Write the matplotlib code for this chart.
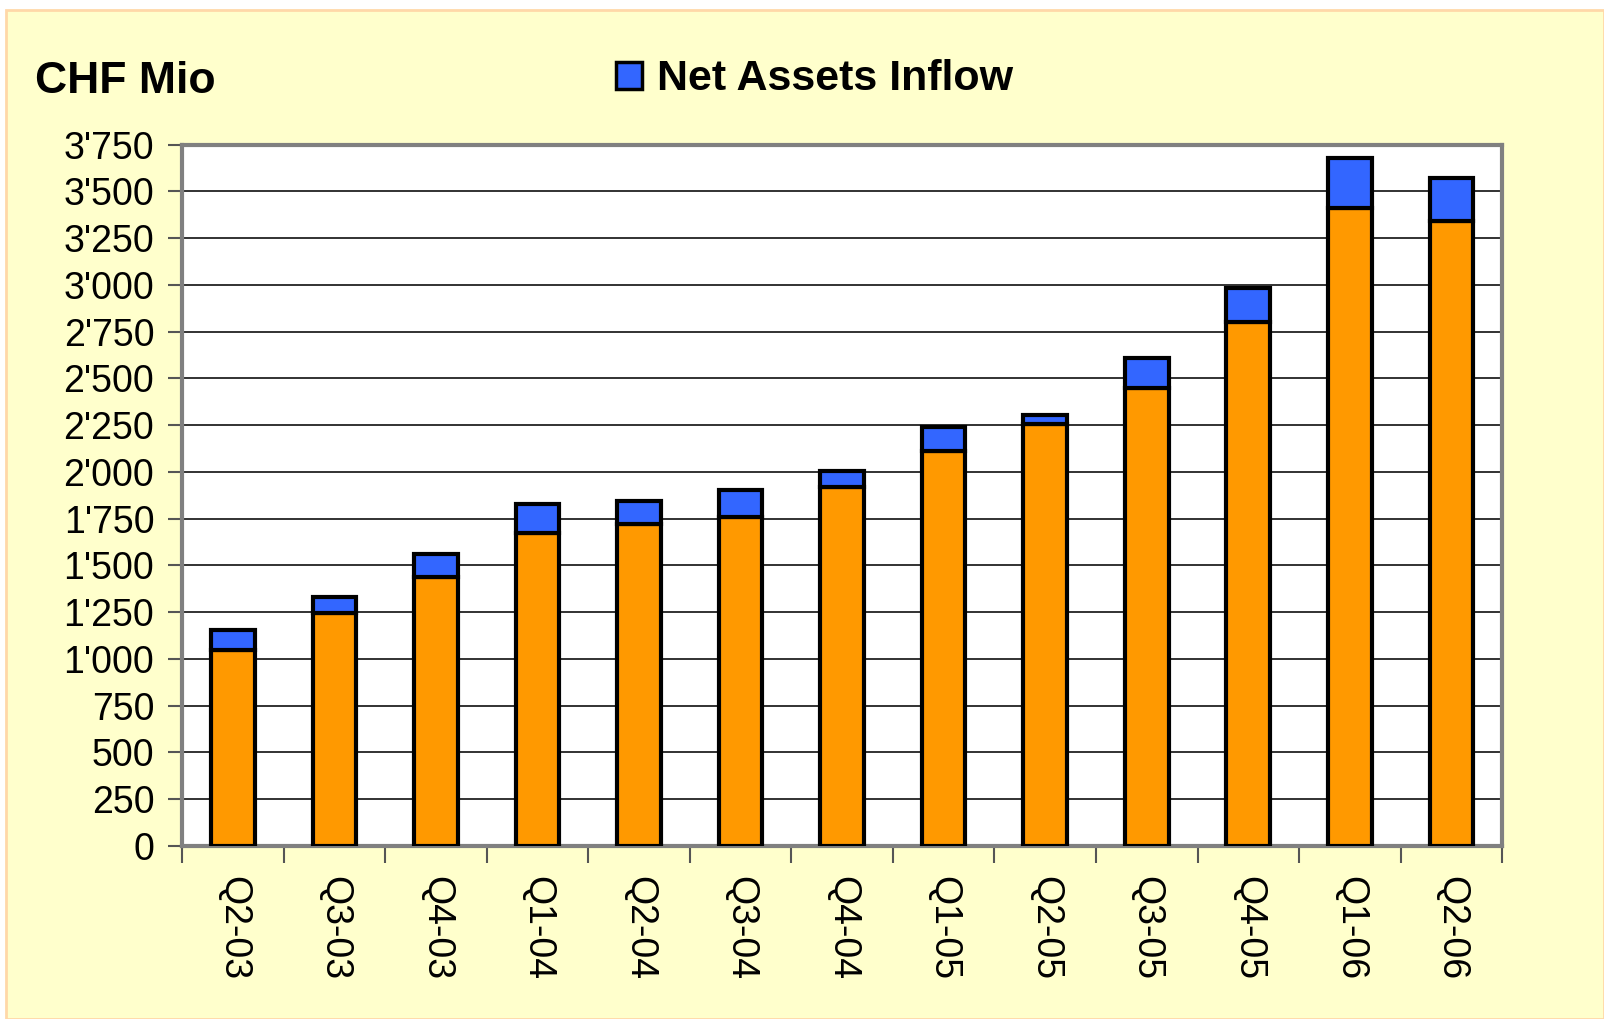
import matplotlib.pyplot as plt
from matplotlib.patches import Rectangle, Patch
import numpy as np

plt.rcParams['font.family'] = ['Liberation Sans', 'DejaVu Sans']

quarters = ["Q2-03", "Q3-03", "Q4-03", "Q1-04", "Q2-04", "Q3-04", "Q4-04",
            "Q1-05", "Q2-05", "Q3-05", "Q4-05", "Q1-06", "Q2-06"]
# base assets (orange) and net assets inflow (blue), CHF Mio
base = [1048, 1245, 1436, 1672, 1720, 1758, 1917, 2113, 2255, 2447, 2803, 3410, 3340]
inflow = [105, 88, 125, 158, 125, 143, 87, 126, 50, 164, 180, 268, 230]
yticks = [0, 250, 500, 750, 1000, 1250, 1500, 1750, 2000, 2250, 2500, 2750, 3000, 3250, 3500, 3750]

fig = plt.figure(figsize=(16.04, 10.19), dpi=100)
fig.patch.set_facecolor("white")
fig.patches.append(Rectangle((0.004, 0.0), 0.996, 0.99, transform=fig.transFigure,
                             facecolor="#FFFFCC", edgecolor="#FFD8A8", lw=2, zorder=-1))

ax = fig.add_axes([0.1135, 0.170, 0.823, 0.688])
ax.set_facecolor("white")
x = np.arange(len(quarters))
ax.bar(x, base, width=0.43, color="#FF9900", edgecolor="black", lw=3, zorder=3)
ax.bar(x, inflow, bottom=base, width=0.43, color="#3366FF", edgecolor="black", lw=3, zorder=3)

ax.set_xlim(-0.5, len(quarters) - 0.5)
ax.set_ylim(0, 3750)
ax.set_yticks(yticks)
ax.set_yticklabels([f"{v:,}".replace(",", "'") for v in yticks], fontsize=27)
ax.yaxis.grid(True, color="#222222", lw=1.3, zorder=0)

ax.set_xticks(np.arange(len(quarters) + 1) - 0.5)
ax.set_xticklabels([])
ax.set_xticks(x, minor=True)
ax.set_xticklabels(quarters, minor=True, rotation=270, fontsize=27, va="top", ha="center")
ax.tick_params(axis="x", which="minor", length=0, pad=22)
ax.tick_params(axis="x", which="major", length=12, width=1.5, color="#555555", direction="out")
ax.tick_params(axis="y", length=10, width=1.5, color="#555555", pad=10)

for s in ax.spines.values():
    s.set_color("#808080")
    s.set_linewidth(3)

fig.text(0.022, 0.92, "CHF Mio", fontsize=32, fontweight="bold", va="center", ha="left")
leg = fig.legend(handles=[Patch(facecolor="#3366FF", edgecolor="black", lw=2.5)],
                 labels=["Net Assets Inflow"], loc="center", bbox_to_anchor=(0.508, 0.922),
                 frameon=False, prop={"size": 31, "weight": "bold"},
                 handlelength=0.6, handleheight=0.6, handletextpad=0.35)

fig.savefig("out.png", dpi=100, facecolor=fig.get_facecolor())
